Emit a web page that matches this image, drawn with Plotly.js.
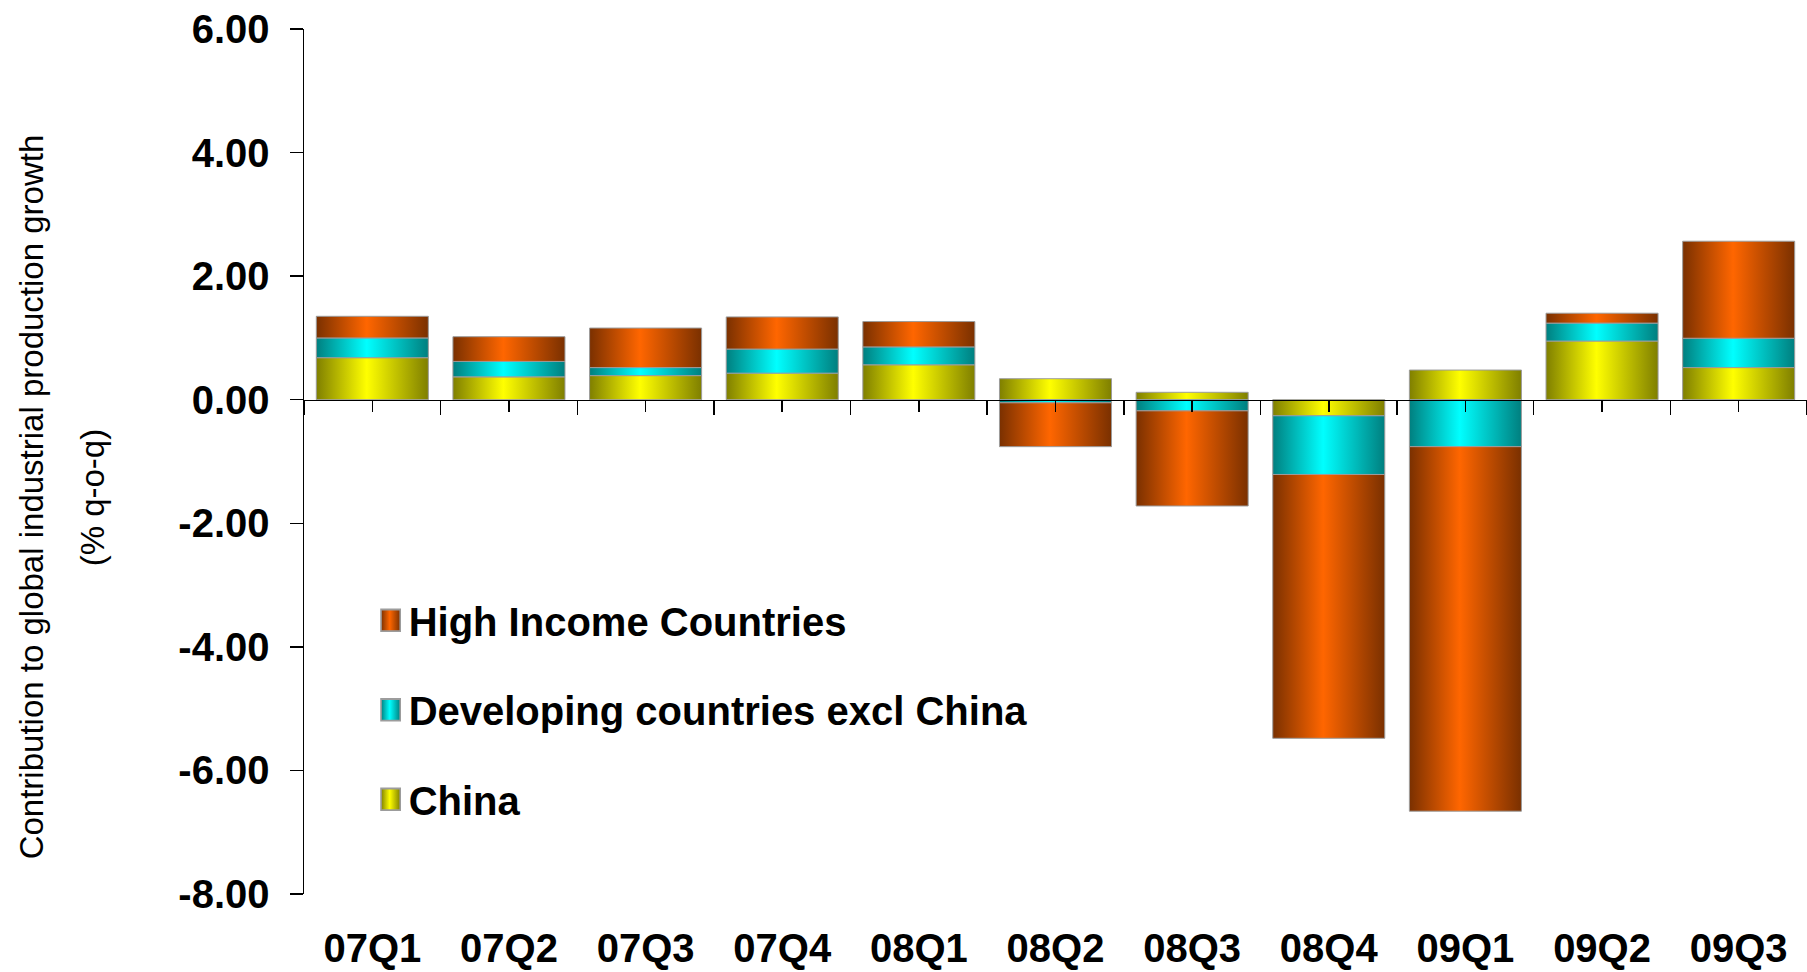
<!DOCTYPE html>
<html>
<head>
<meta charset="utf-8">
<script src="https://cdn.plot.ly/plotly-3.0.1.min.js"></script>
<style>
  html, body { margin: 0; padding: 0; background: #fff; }
  #chart { width: 1807px; height: 972px; }
</style>
</head>
<body>
<div id="chart"></div>
<script>
// ---- data ----
const categories = ['07Q1','07Q2','07Q3','07Q4','08Q1','08Q2','08Q3','08Q4','09Q1','09Q2','09Q3'];
const china      = [0.68, 0.37, 0.39, 0.43, 0.565, 0.34, 0.12, -0.26, 0.48, 0.95, 0.52];
const developing = [0.32, 0.25, 0.13, 0.39, 0.29, -0.05, -0.18, -0.95, -0.76, 0.29, 0.475];
const highIncome = [0.35, 0.40, 0.64, 0.52, 0.41, -0.71, -1.54, -4.27, -5.90, 0.16, 1.57];
const seriesNames = ['China', 'Developing countries excl China', 'High Income Countries'];
const yTickVals = [-8, -6, -4, -2, 0, 2, 4, 6];
const yTickText = yTickVals.map(v => (v < 0 ? '-' : '') + Math.abs(v).toFixed(2));
const yTitleLine1 = 'Contribution to global industrial production growth';
const yTitleLine2 = '(% q-o-q)';

// category positions on a linear axis (so both centre and boundary ticks can be drawn)
const xIndex = categories.map((_, i) => i);

// ---- styles ----
const FONT = '"Liberation Sans", Arial, sans-serif';
const baseColors = ['#FFFF00', '#00FFFF', '#FF6600'];
const darkColors = ['#7F7F00', '#007F7F', '#7A3000'];
const baseRGB = ['rgb(255, 255, 0)', 'rgb(0, 255, 255)', 'rgb(255, 102, 0)'];
const legendRanks = [3, 2, 1];

const seriesValues = [china, developing, highIncome];
const traces = seriesValues.map((vals, i) => ({
  type: 'bar',
  name: seriesNames[i],
  x: xIndex,
  y: vals,
  customdata: categories,
  legendgroup: 'g' + i,
  legendrank: legendRanks[i],
  marker: { color: baseColors[i], line: { color: '#9c9c9c', width: 1 } },
  hovertemplate: '%{customdata}: %{y}<extra>' + seriesNames[i] + '</extra>'
}));

const L = 304, T = 29, B = 78, R = 0;
const yMin = -8, yMax = 6;

const layout = {
  width: 1807, height: 972,
  margin: { l: L, r: R, t: T, b: B, pad: 0 },
  paper_bgcolor: '#fff', plot_bgcolor: '#fff',
  barmode: 'relative',
  bargap: 0.18,
  font: { family: FONT, color: '#000' },
  showlegend: true,
  legend: {
    x: 0.043, y: 0.354, xanchor: 'left', yanchor: 'top',
    traceorder: 'grouped', tracegroupgap: 34.5,
    font: { family: FONT, size: 40, weight: 'bold', color: '#000' },
    bgcolor: 'rgba(0,0,0,0)', borderwidth: 0
  },
  xaxis: {
    type: 'linear', range: [-0.5, categories.length - 0.5],
    anchor: 'free', position: (0 - yMin) / (yMax - yMin),
    showline: true, linecolor: '#000', linewidth: 1.5,
    showgrid: false, zeroline: false,
    tickmode: 'array', tickvals: xIndex, ticktext: categories,
    ticks: 'outside', ticklen: 11, tickwidth: 1.5, tickcolor: '#000',
    minor: { tickmode: 'linear', tick0: -0.5, dtick: 1, ticks: 'outside', ticklen: 14, tickwidth: 1.5, tickcolor: '#000', showgrid: false },
    tickfont: { family: FONT, size: 40, weight: 'bold', color: '#000' },
    ticklabelstandoff: 502
  },
  yaxis: {
    range: [yMin, yMax],
    tickmode: 'array', tickvals: yTickVals, ticktext: yTickText,
    showline: true, linecolor: '#000', linewidth: 1.5,
    ticks: 'outside', ticklen: 13, tickwidth: 1.5, tickcolor: '#000',
    showgrid: false, zeroline: false,
    tickfont: { family: FONT, size: 40, weight: 'bold', color: '#000' },
    ticklabelstandoff: 12
  },
  annotations: [
    { text: yTitleLine1, xref: 'paper', yref: 'y', x: 0, y: -1.58, xshift: 31 - L,
      xanchor: 'center', yanchor: 'middle', textangle: -90, showarrow: false,
      font: { family: FONT, size: 33, color: '#000' } },
    { text: yTitleLine2, xref: 'paper', yref: 'y', x: 0, y: -1.58, xshift: 92 - L,
      xanchor: 'center', yanchor: 'middle', textangle: -90, showarrow: false,
      font: { family: FONT, size: 33, color: '#000' } }
  ]
};

Plotly.newPlot('chart', traces, layout, { displayModeBar: false, staticPlot: true }).then(gd => {
  const svg = gd.querySelector('.main-svg');
  const NS = 'http://www.w3.org/2000/svg';
  let defs = svg.querySelector('defs');
  if (!defs) { defs = document.createElementNS(NS, 'defs'); svg.insertBefore(defs, svg.firstChild); }
  baseColors.forEach((c, i) => {
    const g = document.createElementNS(NS, 'linearGradient');
    g.setAttribute('id', 'cylgrad' + i);
    g.setAttribute('x1', '0'); g.setAttribute('x2', '1');
    g.setAttribute('y1', '0'); g.setAttribute('y2', '0');
    [[0, darkColors[i]], [0.45, c], [1, darkColors[i]]].forEach(([o, col]) => {
      const s = document.createElementNS(NS, 'stop');
      s.setAttribute('offset', o);
      s.setAttribute('stop-color', col);
      g.appendChild(s);
    });
    defs.appendChild(g);
  });
  gd.querySelectorAll('.barlayer path, .legendpoints path').forEach(p => {
    const f = p.style.fill;
    const idx = baseRGB.indexOf(f);
    if (idx >= 0) p.style.fill = 'url(#cylgrad' + idx + ')';
  });
  gd.querySelectorAll('.legendpoints path').forEach(p => {
    const t = p.getAttribute('transform') || '';
    p.setAttribute('transform', t + ' translate(34,0) scale(1.6,1.8) translate(-20,0)');
  });
});
</script>
</body>
</html>
